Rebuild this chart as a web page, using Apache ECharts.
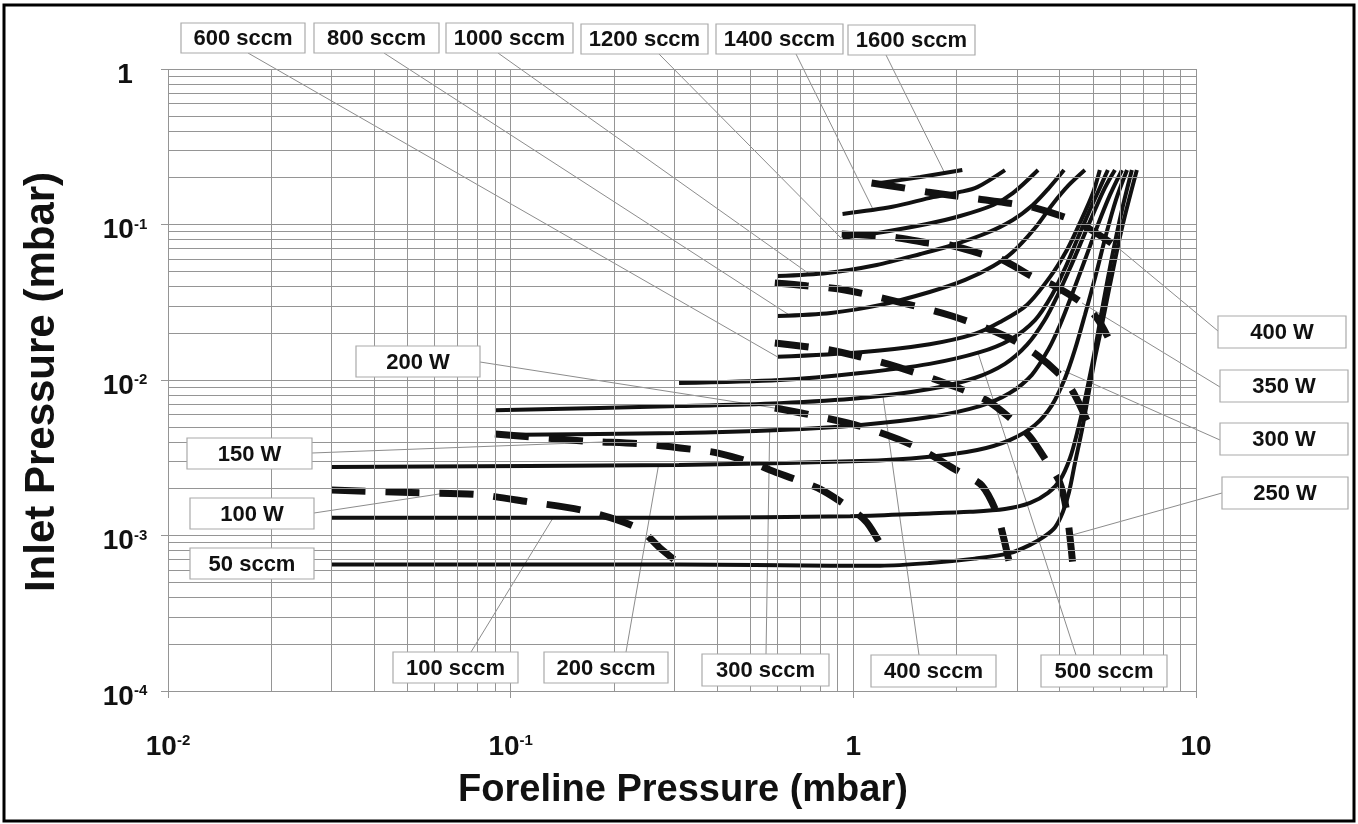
<!DOCTYPE html>
<html>
<head>
<meta charset="utf-8">
<script src="https://cdn.jsdelivr.net/npm/echarts@6/dist/echarts.min.js"></script>
<style>
  html, body { margin: 0; padding: 0; background: #fff; }
  #chart { width: 1358px; height: 824px; }
</style>
</head>
<body>
<div id="chart"></div>
<script>
// Pump performance: inlet pressure vs foreline pressure (both mbar, log-log).
// Solid curves: constant gas flow (sccm). Dashed curves: constant power (W).

const flow50   = [[0.03,6.5e-4],[0.1,6.5e-4],[0.31,6.5e-4],[0.86,6.4e-4],[1.2,6.4e-4],[1.67,6.65e-4],[2.26,7.1e-4],[2.86,7.7e-4],[3.28,8.7e-4],[3.62,9.9e-4],[3.88,1.13e-3],[4.09,1.42e-3],[4.26,1.9e-3],[4.43,2.9e-3],[4.65,4.8e-3],[4.84,7.8e-3],[5.04,0.0129],[5.28,0.021],[5.61,0.041],[6.08,0.095],[6.72,0.224]];
const flow100  = [[0.03,1.3e-3],[0.31,1.3e-3],[0.98,1.33e-3],[1.57,1.38e-3],[2.19,1.42e-3],[2.77,1.48e-3],[3.28,1.62e-3],[3.7,1.88e-3],[4.01,2.27e-3],[4.29,3.15e-3],[4.52,4.77e-3],[4.77,8.0e-3],[5.04,0.0145],[5.35,0.0304],[5.68,0.0609],[6.08,0.124],[6.5,0.224]];
const flow200  = [[0.03,2.76e-3],[0.31,2.84e-3],[1.05,3.01e-3],[1.64,3.2e-3],[2.3,3.55e-3],[2.86,4.11e-3],[3.39,5.14e-3],[3.8,6.9e-3],[4.15,0.0103],[4.43,0.0156],[4.74,0.0262],[5.1,0.0473],[5.46,0.0856],[5.84,0.144],[6.29,0.224]];
const flow300  = [[0.09,4.43e-3],[0.31,4.56e-3],[0.61,4.77e-3],[1.05,5.14e-3],[1.67,5.78e-3],[2.34,6.8e-3],[2.86,8.25e-3],[3.32,0.0108],[3.7,0.0156],[4.01,0.0226],[4.34,0.0352],[4.74,0.0591],[5.17,0.0993],[5.61,0.155],[6.08,0.224]];
const flow400  = [[0.09,6.4e-3],[0.31,6.8e-3],[0.61,7.1e-3],[1.05,7.66e-3],[1.67,8.75e-3],[2.26,0.0103],[2.77,0.0127],[3.21,0.0168],[3.62,0.0243],[3.95,0.0352],[4.29,0.0525],[4.65,0.0795],[5.07,0.124],[5.42,0.172],[5.8,0.224]];
const flow500  = [[0.31,9.57e-3],[0.61,0.01],[1.05,0.0111],[1.67,0.0127],[2.34,0.0151],[2.86,0.0181],[3.39,0.0243],[3.8,0.0352],[4.15,0.0525],[4.52,0.0819],[4.9,0.124],[5.24,0.172],[5.53,0.224]];
const flow600  = [[0.6,0.0141],[1.05,0.0151],[1.67,0.017],[2.26,0.0198],[2.68,0.0236],[3.21,0.0304],[3.75,0.046],[4.2,0.0686],[4.58,0.102],[5.0,0.159],[5.24,0.224]];
const flow800  = [[0.6,0.0258],[0.86,0.027],[1.2,0.0304],[1.67,0.0368],[2.12,0.044],[2.56,0.0541],[2.92,0.0666],[3.39,0.0949],[3.8,0.1335],[4.23,0.177],[4.74,0.224]];
const flow1000 = [[0.6,0.0466],[0.84,0.0488],[1.17,0.0549],[1.57,0.0646],[1.95,0.0738],[2.45,0.0882],[2.92,0.107],[3.34,0.1335],[3.7,0.169],[4.12,0.224]];
const flow1200 = [[0.93,0.082],[1.17,0.088],[1.64,0.1007],[2.05,0.1134],[2.56,0.1335],[2.92,0.159],[3.46,0.224]];
const flow1400 = [[0.93,0.117],[1.3,0.13],[1.71,0.15],[2.05,0.162],[2.3,0.174],[2.77,0.224]];
const flow1600 = [[1.14,0.182],[1.57,0.202],[2.08,0.224]];

const power100 = [[0.03,1.96e-3],[0.054,1.88e-3],[0.079,1.84e-3],[0.114,1.64e-3],[0.165,1.44e-3],[0.234,1.12e-3],[0.273,8.3e-4],[0.31,6.6e-4]];
const power150 = [[0.09,4.5e-3],[0.165,4.05e-3],[0.242,3.88e-3],[0.35,3.55e-3],[0.403,3.39e-3],[0.5,2.97e-3],[0.571,2.64e-3],[0.708,2.21e-3],[0.81,1.96e-3],[0.977,1.5e-3],[1.096,1.21e-3],[1.236,7.8e-4]];
const power200 = [[0.59,6.6e-3],[0.74,6.0e-3],[1.06,5.0e-3],[1.49,3.8e-3],[2.08,2.5e-3],[2.37,2.1e-3],[2.62,1.4e-3],[2.75,9.5e-4],[2.86,6.5e-4]];
const power250 = [[0.59,0.0173],[0.855,0.0156],[1.045,0.0141],[1.35,0.0121],[1.89,9.4e-3],[2.45,7.4e-3],[2.92,5.5e-3],[3.28,4.3e-3],[3.7,2.9e-3],[4.0,2.2e-3],[4.2,1.4e-3],[4.37,6.5e-4]];
const power300 = [[0.59,0.0421],[0.73,0.0404],[0.945,0.0379],[1.36,0.0317],[1.94,0.0258],[2.77,0.0192],[3.43,0.0145],[4.09,0.0103],[4.43,8.0e-3],[4.9,5.0e-3]];
const power350 = [[0.925,0.087],[1.3,0.083],[1.64,0.0763],[1.91,0.0738],[2.37,0.0646],[2.73,0.0591],[3.34,0.046],[3.82,0.0408],[4.65,0.0313],[5.14,0.025],[5.53,0.0189]];
const power400 = [[1.13,0.185],[1.4,0.172],[1.64,0.162],[2.2,0.148],[2.92,0.136],[3.39,0.128],[4.2,0.11],[4.84,0.095],[5.88,0.0717]];

const flowNames  = ['50 sccm','100 sccm','200 sccm','300 sccm','400 sccm','500 sccm','600 sccm','800 sccm','1000 sccm','1200 sccm','1400 sccm','1600 sccm'];
const flowData   = [flow50, flow100, flow200, flow300, flow400, flow500, flow600, flow800, flow1000, flow1200, flow1400, flow1600];
const powerNames = ['100 W','150 W','200 W','250 W','300 W','350 W','400 W'];
const powerData  = [power100, power150, power200, power250, power300, power350, power400];

// Axis ranges
const xRange = [0.01, 10];
const yRange = [1e-4, 1];

// Callout labels and the point on the curve each one refers to
const calloutText   = ['600 sccm','800 sccm','1000 sccm','1200 sccm','1400 sccm','1600 sccm',
                       '200 W','150 W','100 W','50 sccm',
                       '100 sccm','200 sccm','300 sccm','400 sccm','500 sccm',
                       '400 W','350 W','300 W','250 W'];
const calloutAnchor = [[0.6,0.0141],[0.65,0.0262],[0.75,0.0475],[0.92,0.082],[1.14,0.126],[1.85,0.213],
                       [0.59,0.0066],[0.19,0.004],[0.063,0.00186],null,
                       [0.133,0.0013],[0.27,0.00282],[0.57,0.0047],[1.22,0.0079],[2.31,0.015],
                       [5.88,0.0717],[4.65,0.0313],[4.1,0.0115],[4.3,0.001]];

// Layout of the callout boxes: [x, y, w, h] and where the leader leaves the box
const calloutBox = [[181,23,124,30],[314,23,125,30],[446,23,127,30],[581,24,127,30],[716,24,127,30],[848,25,127,30],
                    [356,346,124,31],[187,438,125,31],[190,498,124,31],[190,548,124,31],
                    [393,652,125,31],[544,652,124,31],[702,654,127,32],[871,655,125,32],[1041,655,126,32],
                    [1218,316,128,32],[1220,370,128,32],[1220,423,128,32],[1222,477,126,32]];
const calloutLeaderStart = [[248,53],[384,53],[498,53],[659,54],[796,54],[886,55],
                            [480,362],[312,453],[314,513],null,
                            [471,652],[626,652],[766,654],[919,655],[1076,655],
                            [1218,331],[1220,387],[1220,440],[1222,493]];

const FONT = '"Liberation Sans", Arial, Helvetica, sans-serif';

// Log grid: lines at 1..9 x 10^k inside the axis range
function gridValues(range) {
  const out = [];
  const lo = Math.round(Math.log10(range[0])), hi = Math.round(Math.log10(range[1]));
  for (let k = lo; k < hi; k++) {
    for (let m = 1; m <= 9; m++) out.push(Number((m * Math.pow(10, k)).toPrecision(6)));
  }
  out.push(range[1]);
  return out;
}

// Powers of ten written as 10 with a superscript exponent
function powLabel(v) {
  const e = Math.round(Math.log10(v));
  if (e === 0) return '{b|1}';
  if (e === 1) return '{b|10}';
  return '{b|10}{s|' + e + '}';
}

const tickRich = {
  b: { fontFamily: FONT, fontWeight: 'bold', fontSize: 28, color: '#111', padding: [12, 0, 0, 0] },
  s: { fontFamily: FONT, fontWeight: 'bold', fontSize: 15, color: '#111' }
};

const gridLines = [];
gridValues(xRange).forEach(v => gridLines.push([{ coord: [v, yRange[0]] }, { coord: [v, yRange[1]] }]));
gridValues(yRange).forEach(v => gridLines.push([{ coord: [xRange[0], v] }, { coord: [xRange[1], v] }]));

const series = [{
  type: 'line', name: 'grid', data: [], z: 1, silent: true,
  markLine: {
    silent: true, symbol: ['none', 'none'], label: { show: false },
    lineStyle: { color: '#959595', width: 1, type: 'solid' },
    emphasis: { disabled: true }, animation: false, data: gridLines
  }
}];
flowData.forEach((d, i) => series.push({
  type: 'line', name: flowNames[i], data: d, showSymbol: false, symbol: 'none', smooth: 0.3,
  lineStyle: { color: '#111', width: 4, cap: 'butt' }, z: 3, silent: true
}));
powerData.forEach((d, i) => series.push({
  type: 'line', name: powerNames[i], data: d, showSymbol: false, symbol: 'none', smooth: 0.3,
  lineStyle: { color: '#111', width: 7, type: [34, 20], cap: 'butt' }, z: 4, silent: true
}));

const chart = echarts.init(document.getElementById('chart'));
chart.setOption({
  animation: false,
  backgroundColor: '#fff',
  grid: { left: 168, top: 69, width: 1028, height: 622, containLabel: false },
  xAxis: {
    type: 'log', logBase: 10, min: xRange[0], max: xRange[1],
    axisLine: { show: false },
    axisTick: { show: true, length: 7, lineStyle: { color: '#959595' } },
    splitLine: { show: false },
    axisLabel: { margin: 30, formatter: powLabel, rich: tickRich }
  },
  yAxis: {
    type: 'log', logBase: 10, min: yRange[0], max: yRange[1],
    axisLine: { show: false },
    axisTick: { show: true, length: 7, lineStyle: { color: '#959595' } },
    splitLine: { show: false },
    axisLabel: { margin: 43, align: 'center', formatter: powLabel, rich: tickRich }
  },
  series: series
});

// Callouts, axis titles and the outer frame
const graphics = [];
calloutText.forEach((t, i) => {
  const b = calloutBox[i];
  const start = calloutLeaderStart[i];
  const anchor = calloutAnchor[i];
  if (start && anchor) {
    const p = chart.convertToPixel({ xAxisIndex: 0, yAxisIndex: 0 }, anchor);
    graphics.push({
      type: 'line', z: 2, silent: true,
      shape: { x1: start[0], y1: start[1], x2: p[0], y2: p[1] },
      style: { stroke: '#8c8c8c', lineWidth: 1 }
    });
  }
  graphics.push({
    type: 'rect', z: 10, silent: true,
    shape: { x: b[0], y: b[1], width: b[2], height: b[3] },
    style: { fill: '#fff', stroke: '#aaaaaa', lineWidth: 1.2 }
  });
  graphics.push({
    type: 'text', z: 11, silent: true,
    style: {
      text: t, x: b[0] + b[2] / 2, y: b[1] + b[3] / 2 + 1, align: 'center', verticalAlign: 'middle',
      fontFamily: FONT, fontWeight: 'bold', fontSize: 22, fill: '#111'
    }
  });
});
graphics.push({
  type: 'text', z: 11, silent: true,
  style: { text: 'Foreline Pressure (mbar)', x: 683, y: 791, align: 'center', verticalAlign: 'middle',
           fontFamily: FONT, fontWeight: 'bold', fontSize: 38, fill: '#111' }
});
graphics.push({
  type: 'text', z: 11, silent: true, x: 42, y: 382, rotation: Math.PI / 2,
  style: { text: 'Inlet Pressure (mbar)', x: 0, y: 0, align: 'center', verticalAlign: 'middle',
           fontFamily: FONT, fontWeight: 'bold', fontSize: 42, fill: '#111' }
});
graphics.push({
  type: 'rect', z: 12, silent: true,
  shape: { x: 4, y: 5, width: 1350, height: 816 },
  style: { fill: 'none', stroke: '#000', lineWidth: 3 }
});
chart.setOption({ graphic: graphics });
</script>
</body>
</html>
